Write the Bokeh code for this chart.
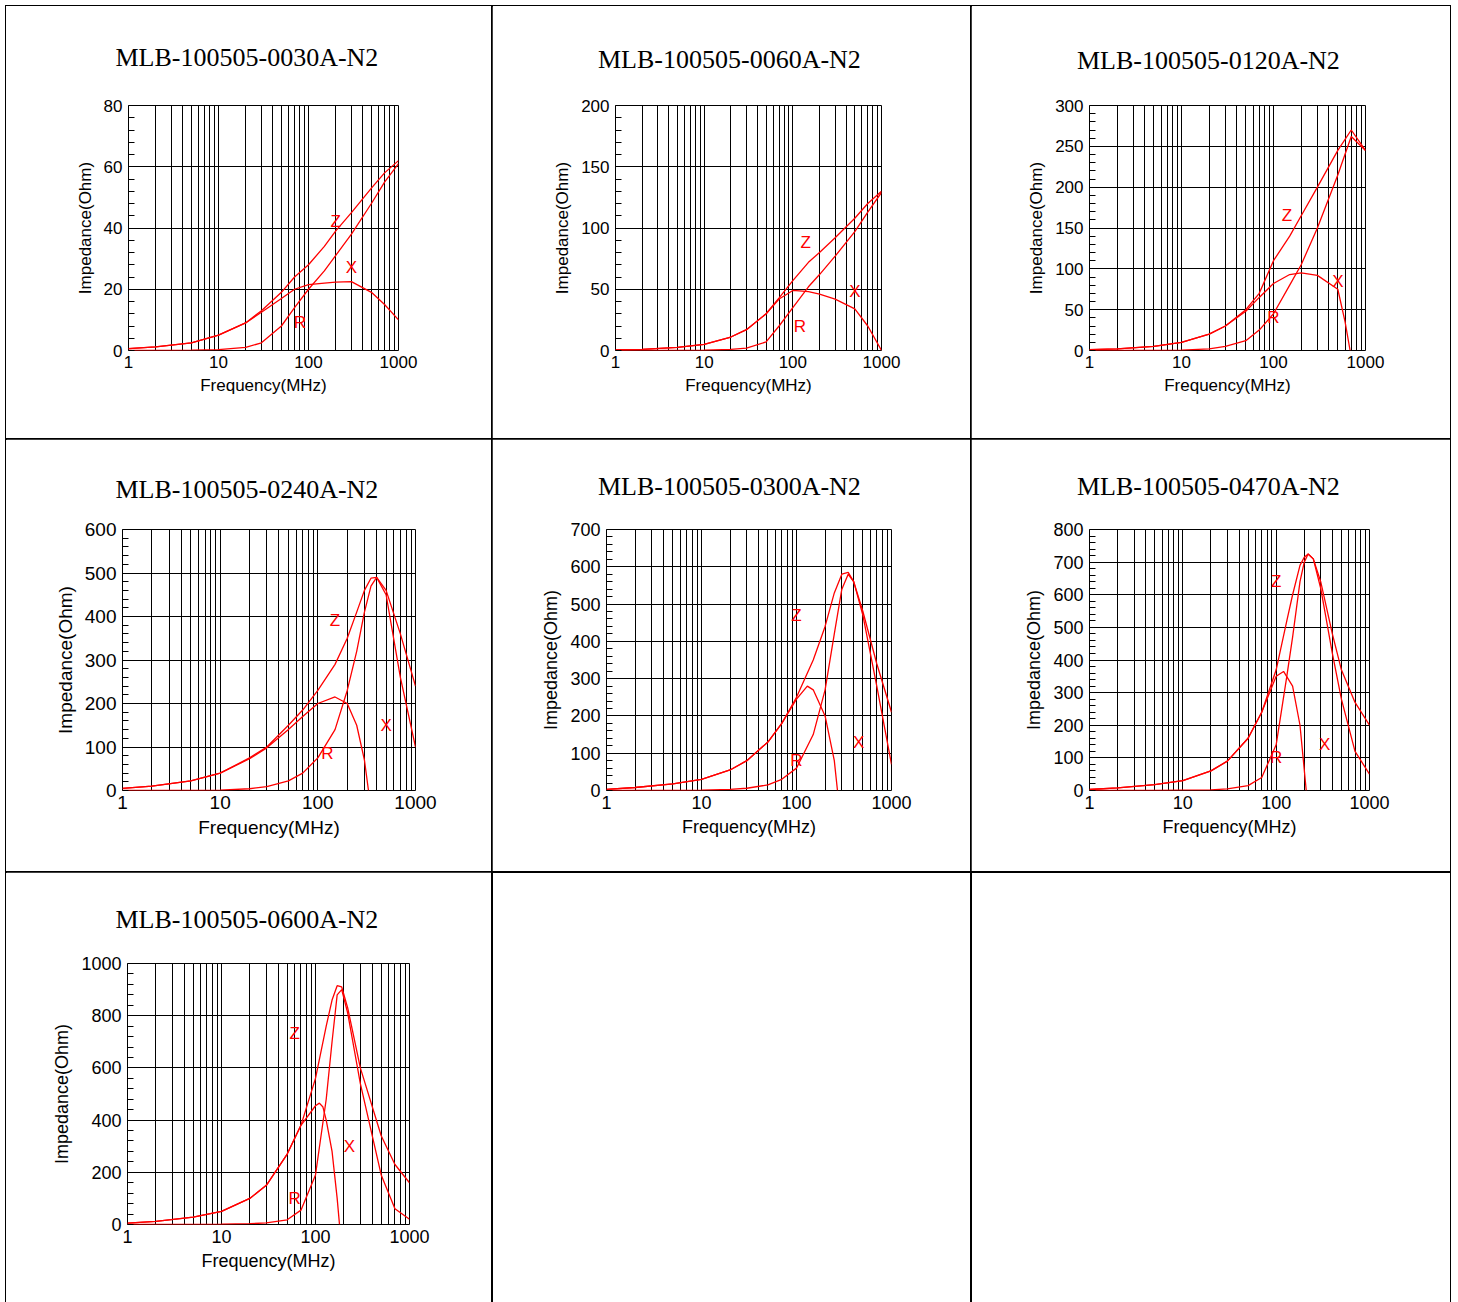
from bokeh.core.properties import value
from bokeh.embed import file_html
from bokeh.layouts import column, row
from bokeh.models import FixedTicker, Spacer
from bokeh.plotting import figure
from bokeh.resources import INLINE

x_major = [1, 10, 100, 1000]
x_minor = [2, 3, 4, 5, 6, 7, 8, 9, 20, 30, 40, 50, 60, 70, 80, 90,
           200, 300, 400, 500, 600, 700, 800, 900]

# chart 1
c1_title = "MLB-100505-0030A-N2"
c1_f = [1, 2, 5, 10, 20, 30, 50, 70, 100, 150, 200, 300, 500, 700, 1000]
c1_z = [0.6, 1.2, 2.5, 5, 9, 13, 19, 24, 28, 34, 39, 45, 53, 58, 62]
c1_fx = c1_f
c1_x = [0.6, 1.2, 2.5, 5, 9, 12.5, 17, 20, 21.5, 22, 22.3, 22.5, 19, 15, 10]
c1_r = [0, 0, 0.1, 0.3, 1, 2.5, 8, 14, 20, 26, 31, 38, 48, 55, 61]
c1_lab = [(200, 42), (300, 27), (80, 9)]

# chart 2
c2_title = "MLB-100505-0060A-N2"
c2_f = c1_f
c2_z = [0.5, 1, 2.5, 5, 11, 17, 30, 43, 57, 72, 80, 92, 108, 120, 130]
c2_fx = c1_f
c2_x = [0.5, 1, 2.5, 5, 11, 17, 30, 42, 49, 48, 46, 42, 34, 20, 0]
c2_r = [0, 0, 0, 0.2, 1, 2, 7, 20, 35, 52, 62, 77, 97, 113, 129]
c2_lab = [(140, 88), (500, 48), (120, 20)]

# chart 3
c3_title = "MLB-100505-0120A-N2"
c3_f = c1_f
c3_z = [1, 2, 5, 10, 20, 30, 50, 70, 110, 140, 165, 200, 245, 270, 245]
c3_fx = [1, 2, 5, 10, 20, 30, 50, 70, 100, 150, 200, 300, 500, 600, 680]
c3_x = [1, 2, 5, 10, 20, 30, 48, 65, 82, 93, 95, 92, 75, 35, 0]
c3_r = [0, 0, 0, 0.5, 2, 5, 12, 25, 45, 80, 105, 150, 215, 262, 245]
c3_lab = [(140, 165), (500, 85), (100, 40)]

# chart 4
c4_title = "MLB-100505-0240A-N2"
c4_f = [1, 2, 5, 10, 20, 30, 50, 70, 100, 150, 200, 250, 300, 350, 400, 500, 700, 1000]
c4_z = [5, 10, 22, 40, 75, 100, 150, 185, 230, 290, 350, 410, 460, 488, 490, 460, 360, 240]
c4_fx = [1, 2, 5, 10, 20, 30, 50, 70, 100, 150, 200, 250, 300, 330]
c4_x = [5, 10, 22, 40, 73, 98, 140, 170, 200, 215, 200, 150, 70, 0]
c4_r = [0, 0, 0, 1, 4, 9, 22, 40, 75, 140, 230, 320, 410, 470, 490, 450, 260, 100]
c4_lab = [(150, 390), (500, 150), (125, 85)]

# chart 5
c5_title = "MLB-100505-0300A-N2"
c5_f = [1, 2, 5, 10, 20, 30, 50, 70, 100, 150, 200, 250, 300, 350, 400, 500, 700, 1000]
c5_z = [3, 8, 18, 30, 55, 80, 130, 180, 250, 350, 440, 530, 580, 585, 560, 480, 340, 210]
c5_fx = [1, 2, 5, 10, 20, 30, 50, 70, 100, 130, 150, 200, 250, 270]
c5_x = [3, 8, 18, 30, 55, 80, 130, 180, 245, 280, 270, 200, 80, 0]
c5_r = [0, 0, 0, 1, 3, 6, 15, 30, 60, 150, 270, 420, 540, 580, 560, 470, 280, 70]
c5_lab = [(100, 470), (450, 130), (100, 80)]

# chart 6
c6_title = "MLB-100505-0470A-N2"
c6_f = [1, 2, 5, 10, 20, 30, 50, 70, 100, 130, 150, 180, 200, 220, 250, 300, 400, 500, 700, 1000]
c6_z = [3, 8, 18, 30, 60, 90, 160, 240, 370, 520, 600, 690, 715, 725, 710, 640, 480, 370, 270, 200]
c6_fx = [1, 2, 5, 10, 20, 30, 50, 70, 100, 120, 150, 180, 210]
c6_x = [3, 8, 18, 30, 60, 90, 160, 240, 350, 365, 320, 200, 0]
c6_r = [0, 0, 0, 1, 2, 5, 15, 40, 140, 350, 470, 640, 700, 725, 710, 620, 420, 280, 120, 50]
c6_lab = [(100, 640), (330, 140), (100, 100)]

# chart 7
c7_title = "MLB-100505-0600A-N2"
c7_f = [1, 2, 5, 10, 20, 30, 50, 70, 100, 130, 150, 170, 190, 220, 300, 500, 700, 1000]
c7_z = [5, 12, 28, 50, 100, 150, 270, 380, 560, 760, 860, 915, 910, 830, 600, 340, 230, 160]
c7_fx = [1, 2, 5, 10, 20, 30, 50, 70, 100, 110, 120, 130, 150, 170, 180]
c7_x = [5, 12, 28, 50, 100, 150, 270, 380, 455, 465, 450, 400, 280, 100, 0]
c7_r = [0, 0, 0, 1, 3, 6, 18, 55, 190, 480, 700, 880, 900, 810, 540, 190, 60, 20]
c7_lab = [(60, 730), (230, 300), (60, 100)]

CELL = {"outline": "1.5px solid black"}


def make_cell(title, f, z, fx, x, r, lab, ymax, ystep, w, h, left, right, top, bottom, fs):
    p = figure(width=w, height=h, x_axis_type="log", x_range=(1, 1000), y_range=(0, ymax),
               output_backend="svg", toolbar_location=None,
               min_border_left=left, min_border_right=right,
               min_border_top=top, min_border_bottom=bottom)
    p.styles = CELL
    p.outline_line_color = "black"
    p.outline_line_alpha = 1

    p.title.text = title
    p.title.align = "left"
    p.title.vertical_align = "top"
    p.title.offset = w / 2 - 134 - left
    p.title.standoff = top - 36
    p.title.text_font = "Liberation Serif"
    p.title.text_font_size = "26px"
    p.title.text_font_style = "normal"
    p.title.text_color = "black"

    p.xaxis.ticker = FixedTicker(ticks=x_major, minor_ticks=x_minor)
    p.xaxis.major_label_overrides = {1: "1", 10: "10", 100: "100", 1000: "1000"}
    yt = list(range(0, ymax + 1, ystep))
    ym = [v * ystep / 5 for v in range(0, 5 * (ymax // ystep) + 1)]
    p.yaxis.ticker = FixedTicker(ticks=yt, minor_ticks=ym)

    for ax in (p.xaxis, p.yaxis):
        ax.axis_line_color = None
        ax.major_tick_out = 0
        ax.major_tick_in = 0
        ax.minor_tick_out = 0
        ax.major_label_text_font = "Liberation Sans"
        ax.major_label_text_font_size = fs
        ax.major_label_text_color = "black"
        ax.axis_label_text_font = "Liberation Sans"
        ax.axis_label_text_font_size = fs
        ax.axis_label_text_font_style = "normal"
        ax.axis_label_text_color = "black"
    p.xaxis.minor_tick_in = 0
    p.yaxis.minor_tick_in = 6
    p.yaxis.minor_tick_line_color = "black"
    p.xaxis.axis_label = "Frequency(MHz)"
    p.yaxis.axis_label = "Impedance(Ohm)"
    p.xaxis.major_label_standoff = 5
    p.xaxis.axis_label_standoff = 5
    p.yaxis.major_label_standoff = 6
    p.yaxis.axis_label_standoff = 6

    p.xgrid.grid_line_color = "black"
    p.xgrid.minor_grid_line_color = "black"
    p.xgrid.grid_line_alpha = 1
    p.ygrid.grid_line_color = "black"
    p.ygrid.grid_line_alpha = 1

    p.line(f, z, color="red", line_width=1.3)
    p.line(fx, x, color="red", line_width=1.3)
    p.line(f, r, color="red", line_width=1.3)
    p.text([lab[0][0], lab[1][0], lab[2][0]], [lab[0][1], lab[1][1], lab[2][1]],
           text=["Z", "X", "R"], text_color="red", text_font=value("Liberation Sans"),
           text_font_size="17px", text_align="center", text_baseline="middle")
    return p


p1 = make_cell(c1_title, c1_f, c1_z, c1_fx, c1_x, c1_r, c1_lab, 80, 20, 486, 433, 122, 94, 99, 89, "17px")
p2 = make_cell(c2_title, c2_f, c2_z, c2_fx, c2_x, c2_r, c2_lab, 200, 50, 479, 433, 123, 90, 96, 87, "17px")
p3 = make_cell(c3_title, c3_f, c3_z, c3_fx, c3_x, c3_r, c3_lab, 300, 50, 479, 433, 118, 85, 93, 84, "17px")
p4 = make_cell(c4_title, c4_f, c4_z, c4_fx, c4_x, c4_r, c4_lab, 600, 100, 486, 433, 116, 77, 83, 76, "19px")
p5 = make_cell(c5_title, c5_f, c5_z, c5_fx, c5_x, c5_r, c5_lab, 700, 100, 479, 433, 114, 80, 89, 81, "18px")
p6 = make_cell(c6_title, c6_f, c6_z, c6_fx, c6_x, c6_r, c6_lab, 800, 100, 479, 433, 118, 81, 90, 82, "18px")
p7 = make_cell(c7_title, c7_f, c7_z, c7_fx, c7_x, c7_r, c7_lab, 1000, 200, 486, 430, 121, 83, 91, 78, "18px")
s8 = Spacer(width=479, height=430, styles=CELL)
s9 = Spacer(width=479, height=430, styles=CELL)

page = column(row(p1, p2, p3), row(p4, p5, p6), row(p7, s8, s9), margin=(6, 0, 0, 6))
open("out.html", "w").write(file_html(page, INLINE))
